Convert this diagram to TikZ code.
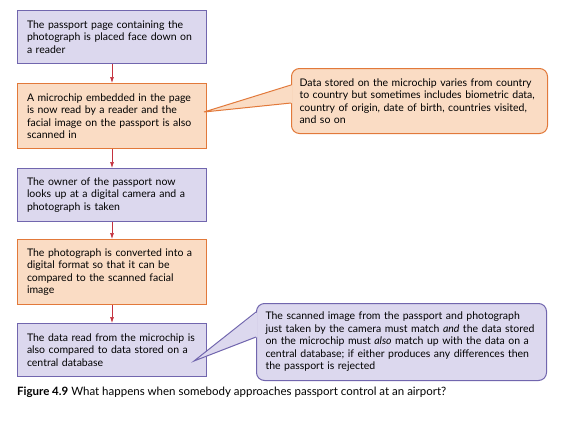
\documentclass[tikz,border=0pt]{standalone}
\usepackage{fontspec}
\setmainfont{Lato}
\usetikzlibrary{calc, arrows.meta}
\definecolor{lilacfill}{HTML}{DCD8EE}
\definecolor{lilacline}{HTML}{7166AE}
\definecolor{peachfill}{HTML}{FADCC4}
\definecolor{peachline}{HTML}{E2793A}
\definecolor{arrowred}{HTML}{C4323F}
\begin{document}
\begin{tikzpicture}[x=1pt, y=-1pt,
    stepbox/.style = {anchor=north west, minimum width=188pt, text width=170pt, inner xsep=9.5pt,
                      inner ysep=0pt, align=left, line width=1pt, font=\fontsize{10.5}{12.5}\selectfont},
    lilacbox/.style = {stepbox, fill=lilacfill, draw=lilacline},
    peachbox/.style = {stepbox, fill=peachfill, draw=peachline},
    flow/.style = {arrowred, line width=0.7pt, -{Latex[length=6pt, width=4pt]}},
    notebox/.style = {anchor=north west, rounded corners=8pt, line width=1pt, inner xsep=8pt,
                      inner ysep=0pt, align=left, font=\fontsize{10.5}{12.5}\selectfont}]
    \useasboundingbox[fill=white] (0,0) rectangle (577,423);
    % the five steps at the gate
    \node[lilacbox, minimum height=53pt] (reader) at (17,10) {The passport page containing the\\ photograph is placed face down on\\ a reader};
    \node[peachbox, minimum height=65pt] (chip) at (17,83) {A microchip embedded in the page\\ is now read by a reader and the\\ facial image on the passport is also\\ scanned in};
    \node[lilacbox, minimum height=53pt] (camera) at (17,168) {The owner of the passport now\\ looks up at a digital camera and a\\ photograph is taken};
    \node[peachbox, minimum height=65pt] (convert) at (17,239) {The photograph is converted into a\\ digital format so that it can be\\ compared to the scanned facial\\ image};
    \node[lilacbox, minimum height=53pt] (database) at (17,323) {The data read from the microchip is\\ also compared to data stored on a\\ central database};
    \draw[flow] (reader) -- (chip);
    \draw[flow] (chip) -- (camera);
    \draw[flow] (camera) -- (convert);
    \draw[flow] (convert) -- (database);
    % the two notes with their pointers
    \node[notebox, fill=peachfill, draw=peachline, text width=240pt, minimum height=65pt] (chipdata) at (291,68)
        {Data stored on the microchip varies from country\\ to country but sometimes includes biometric data,\\ country of origin, date of birth, countries visited,\\ and so on};
    \coordinate (chiptip) at (204,112);
    \fill[peachfill] ($(chipdata.north west)+(1.5,17)$) -- (chiptip) -- ($(chipdata.north west)+(1.5,35)$) -- cycle;
    \draw[peachline, line width=1pt] ($(chipdata.north west)+(0,17)$) -- (chiptip) -- ($(chipdata.north west)+(0,35)$);
    \node[notebox, fill=lilacfill, draw=lilacline, text width=272pt, inner xsep=9pt, minimum height=77pt] (verdict) at (256,303)
        {The scanned image from the passport and photograph\\ just taken by the camera must match \emph{and} the data stored\\ on the microchip must \emph{also} match up with the data on a\\ central database; if either produces any differences then\\ the passport is rejected};
    \coordinate (verdicttip) at (194,361);
    \fill[lilacfill] ($(verdict.north west)+(1.5,9)$) -- (verdicttip) -- ($(verdict.north west)+(1.5,34)$) -- cycle;
    \draw[lilacline, line width=1pt] ($(verdict.north west)+(0,9)$) -- (verdicttip) -- ($(verdict.north west)+(0,34)$);
    % caption
    \node[anchor=west, inner sep=0pt, font=\fontsize{11.5}{13}\selectfont] (caption) at (17,392)
        {\textbf{Figure 4.9} What happens when somebody approaches passport control at an airport?};
\end{tikzpicture}
\end{document}
